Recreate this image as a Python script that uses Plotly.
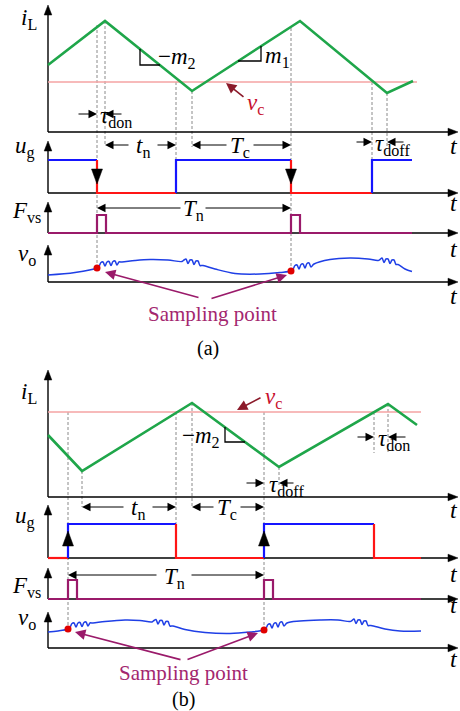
import plotly.graph_objects as go

# ---------------- data (canvas units: x = time to the right, y = level downward) ----------------
# common axis frame
AXIS_X0 = 48
AXIS_X1 = 458
A_AXES = [(5, 132), (141, 193), (202, 233), (245, 282)]      # (arrow tip, time axis) per trace, panel (a)
B_AXES = [(370, 497), (505, 558), (568, 599), (612, 648)]    # panel (b)
A_T_LABEL_Y = [146, 203, 249, 296]
B_T_LABEL_Y = [510, 574, 605, 659]
SIG_MAIN = ["i", "u", "F", "v"]
SIG_SUB = ["L", "g", "vs", "o"]
SIG_RIGHT = [39, 37, 43, 38]
A_SIG_Y = [19, 147, 212, 255]
B_SIG_Y = [393, 517, 587, 619]

# ---- panel (a) ----
A_IL_T = [48, 105, 192, 300, 387, 413]
A_IL_V = [65, 21, 91, 21, 93, 81]
A_VC = 82
A_VC_SPAN = [48, 417]
A_UG_START_HIGH = True
A_UG_EDGE_T = [97, 176, 291, 372]
A_UG_EDGE = ["fall", "rise", "fall", "rise"]
A_UG_END = 412
A_UG_HI, A_UG_LO = 160, 193
A_PULSE_T = [97, 291]
A_PULSE_W = 9
A_PULSE_HI, A_PULSE_LO = 215, 233
A_PULSE_END = 412
A_VO_T = [48, 75, 97,
          99, 101, 103, 105, 107, 109, 111, 113, 115, 117, 119, 122,
          135, 150, 168, 182,
          184, 186, 188, 190, 192, 194, 196, 198, 200, 203,
          215, 235, 260, 280, 291,
          293, 295, 297, 299, 301, 303, 305, 307, 309, 311, 314,
          330, 350, 368, 378,
          380, 382, 384, 386, 388, 390, 392, 394, 396, 398,
          405, 412]
A_VO_V = [275, 272.5, 268,
          266.5, 262.5, 262, 266, 262, 261.5, 265.5, 261.5, 261, 265, 262, 262,
          260.5, 259.5, 260, 261.5,
          260, 259, 263.5, 260, 260, 264.5, 261, 261, 265.5, 265.5,
          269, 273.5, 274, 272.5, 271,
          269.5, 265.5, 265, 269, 264.5, 264, 268, 263.5, 263, 267, 264,
          259.5, 258, 259, 260.5,
          259.5, 258, 262.5, 259, 259, 263.5, 260, 260, 264.5, 264.5,
          269, 271.5]
A_SAMPLE_T = [97, 291]
A_SAMPLE_V = [268, 271]
A_DASH = [(97, 25, 268), (105, 21, 145), (176, 82, 160), (192, 91, 147),
          (291, 28, 271), (372, 82, 160), (387, 93, 147)]

# ---- panel (b) ----
B_IL_T = [48, 82, 192, 279, 388, 417]
B_IL_V = [435, 471, 403, 467, 404, 425]
B_VC = 412
B_VC_SPAN = [48, 421]
B_UG_START_HIGH = False
B_UG_EDGE_T = [68, 176, 264, 374]
B_UG_EDGE = ["rise", "fall", "rise", "fall"]
B_UG_END = 421
B_UG_HI, B_UG_LO = 524, 558
B_PULSE_T = [68, 264]
B_PULSE_W = 9
B_PULSE_HI, B_PULSE_LO = 580, 599
B_PULSE_END = 421
B_VO_T = [48, 58, 68,
          70, 72, 74, 76, 78, 80, 82, 84, 86, 88, 90, 93,
          105, 125, 140, 152,
          154, 156, 158, 160, 162, 164, 166, 168, 170, 173,
          185, 205, 230, 250, 264,
          266, 268, 270, 272, 274, 276, 278, 280, 282, 284, 287,
          300, 320, 338, 350,
          352, 354, 356, 358, 360, 362, 364, 366, 368, 371,
          385, 400, 421]
B_VO_V = [632, 631, 629,
          627.5, 623.5, 623, 627, 623, 622.5, 626.5, 622.5, 622, 626, 623, 623,
          621.5, 620, 620.5, 622,
          620.5, 619.5, 624, 620.5, 620.5, 625, 621.5, 621.5, 626, 626,
          629.5, 632.5, 633.5, 632, 630,
          628.5, 624.5, 624, 628, 623.5, 623, 627, 622.5, 622, 626, 623,
          621, 620, 620, 621.5,
          620.5, 619, 623.5, 620, 620, 624.5, 621, 621, 625.5, 625.5,
          629, 631, 631]
B_SAMPLE_T = [68, 264]
B_SAMPLE_V = [629, 630]
B_DASH = [(68, 412, 629), (82, 471, 507), (176, 412, 524), (192, 403, 507),
          (264, 412, 630), (279, 467, 487), (374, 412, 453), (388, 404, 453)]

# ---------------- styles ----------------
FONT = "Liberation Serif, Times New Roman, serif"
GREEN = "#1fa64a"
BLUE = "#1515ff"
RED = "#ff1515"
PURPLE = "#9a1a6a"
PINK = "#f5a3a3"
VO_BLUE = "#1f3fe6"
DASH_C = "#8a8a8a"
TXT_PURPLE = "#a3276f"
VC_RED = "#c8102e"
VC_ARROW = "#8b1a2a"
LBL = 23

fig = go.Figure()


def line(xs, ys, color, width, dash=None, shape="linear"):
    fig.add_trace(go.Scatter(x=xs, y=ys, mode="lines",
                             line=dict(color=color, width=width, dash=dash, shape=shape),
                             hoverinfo="skip", showlegend=False))


def tri(xs, ys, color="black"):
    fig.add_trace(go.Scatter(x=xs + [xs[0]], y=ys + [ys[0]], mode="lines", fill="toself",
                             fillcolor=color, line=dict(color=color, width=0.5),
                             hoverinfo="skip", showlegend=False))


def text(x, y, s, size=LBL, color="black", xanchor="center", yanchor="middle"):
    fig.add_annotation(x=x, y=y, xref="x", yref="y", text=s, showarrow=False,
                       font=dict(family=FONT, size=size, color=color),
                       xanchor=xanchor, yanchor=yanchor)


def arrow(x0, y0, x1, y1, color="black", width=1, size=1.7):
    fig.add_annotation(x=x1, y=y1, ax=x0, ay=y0, xref="x", yref="y", axref="x", ayref="y",
                       text="", showarrow=True, arrowhead=2, arrowsize=size,
                       arrowwidth=width, arrowcolor=color, standoff=0, startstandoff=0)


def axes(frames, tlabel_y, sig_y):
    for (top, base), ty, sy, m, s, r in zip(frames, tlabel_y, sig_y, SIG_MAIN, SIG_SUB, SIG_RIGHT):
        line([AXIS_X0, AXIS_X0, None, AXIS_X0, AXIS_X1 - 8], [top + 8, base, None, base, base], "black", 1.4)
        tri([AXIS_X0, AXIS_X0 - 3.8, AXIS_X0 + 3.8], [top, top + 10, top + 10])
        tri([AXIS_X1, AXIS_X1 - 10, AXIS_X1 - 10], [base, base - 3.8, base + 3.8])
        text(AXIS_X1 - 4, ty, "<i>t</i>", size=24)
        text(r, sy, "<i>%s</i><sub>%s</sub>" % (m, s), size=LBL, xanchor="right")


def dashed(items):
    xs, ys = [], []
    for x, y0, y1 in items:
        xs += [x, x, None]
        ys += [y0, y1, None]
    line(xs, ys, DASH_C, 1, dash="3px,2px")


def gate(start_high, edge_t, edges, x0, x_end, hi, lo):
    level = hi if start_high else lo
    first = edge_t[0]
    line([x0, first], [level, level], BLUE if level == hi else RED, 2.2)
    for i, (t, e) in enumerate(zip(edge_t, edges)):
        nxt = edge_t[i + 1] if i + 1 < len(edge_t) else x_end
        if e == "rise":
            line([t, t, nxt], [lo, hi, hi], BLUE, 2.2)
        else:
            line([t, t, nxt], [hi, lo, lo], RED, 2.2)


def pulses(pt, w, hi, lo, x0, x_end):
    xs, ys = [x0], [lo]
    for t in pt:
        xs += [t, t, t + w, t + w]
        ys += [lo, hi, hi, lo]
    xs.append(x_end)
    ys.append(lo)
    line(xs, ys, PURPLE, 2.2)


# ---------------- panel (a) ----------------
dashed(A_DASH)
axes(A_AXES, A_T_LABEL_Y, A_SIG_Y)
line(A_VC_SPAN, [A_VC, A_VC], PINK, 1.4)
line(A_IL_T, A_IL_V, GREEN, 2.6)
gate(A_UG_START_HIGH, A_UG_EDGE_T, A_UG_EDGE, AXIS_X0, A_UG_END, A_UG_HI, A_UG_LO)
for t, e in zip(A_UG_EDGE_T, A_UG_EDGE):
    if e == "fall":
        tri([t - 5.5, t + 5.5, t], [169, 169, 184])
pulses(A_PULSE_T, A_PULSE_W, A_PULSE_HI, A_PULSE_LO, AXIS_X0, A_PULSE_END)
line(A_VO_T, A_VO_V, VO_BLUE, 1.5, shape="spline")
fig.add_trace(go.Scatter(x=A_SAMPLE_T, y=A_SAMPLE_V, mode="markers",
                         marker=dict(color="#e00000", size=7), hoverinfo="skip", showlegend=False))

# slope markers
line([140, 140, 160], [49, 65, 65], "black", 1.3)
text(156, 58, "\u2212<i>m</i><sub>2</sub>", xanchor="left")
line([238, 261, 261], [61, 61, 46], "black", 1.3)
text(263, 57, "<i>m</i><sub>1</sub>", xanchor="left")
# v_c
arrow(245, 98, 226, 83, color=VC_ARROW, width=1.6, size=1.3)
text(245, 104, "<i>v</i><sub>c</sub>", color=VC_RED, xanchor="left")
# tau_don
arrow(77, 114, 97, 114)
arrow(123, 114, 105, 114)
text(98, 117, "<i>\u03c4</i><sub>don</sub>", xanchor="left")
# t_n, T_c
arrow(130, 145, 105, 145)
arrow(156, 145, 176, 145)
text(143, 147, "<i>t</i><sub>n</sub>")
arrow(228, 145, 192, 145)
arrow(252, 145, 291, 145)
text(240, 147, "<i>T</i><sub>c</sub>")
# tau_doff
arrow(355, 142, 372, 142)
arrow(405, 142, 387, 142)
text(373, 145, "<i>\u03c4</i><sub>doff</sub>", xanchor="left")
# T_n
arrow(182, 208, 97, 208)
arrow(204, 208, 291, 208)
text(193, 210, "<i>T</i><sub>n</sub>")
# sampling point
arrow(200, 298, 105, 272, color=PURPLE, width=1.6, size=1.3)
arrow(210, 299, 287, 275, color=PURPLE, width=1.6, size=1.3)
text(212, 314, "Sampling point", size=21, color=TXT_PURPLE)
text(208, 348, "(a)", size=20)

# ---------------- panel (b) ----------------
dashed(B_DASH)
axes(B_AXES, B_T_LABEL_Y, B_SIG_Y)
line(B_VC_SPAN, [B_VC, B_VC], PINK, 1.4)
line(B_IL_T, B_IL_V, GREEN, 2.6)
gate(B_UG_START_HIGH, B_UG_EDGE_T, B_UG_EDGE, AXIS_X0, B_UG_END, B_UG_HI, B_UG_LO)
for t, e in zip(B_UG_EDGE_T, B_UG_EDGE):
    if e == "rise":
        tri([t - 5.5, t + 5.5, t], [546, 546, 531])
pulses(B_PULSE_T, B_PULSE_W, B_PULSE_HI, B_PULSE_LO, AXIS_X0, B_PULSE_END)
line(B_VO_T, B_VO_V, VO_BLUE, 1.5, shape="spline")
fig.add_trace(go.Scatter(x=B_SAMPLE_T, y=B_SAMPLE_V, mode="markers",
                         marker=dict(color="#e00000", size=7), hoverinfo="skip", showlegend=False))

line([225, 225, 245], [427, 442, 442], "black", 1.3)
text(222, 437, "\u2212<i>m</i><sub>2</sub>", xanchor="right")
arrow(262, 397, 237, 410, color=VC_ARROW, width=1.6, size=1.3)
text(263, 398, "<i>v</i><sub>c</sub>", color=VC_RED, xanchor="left")
arrow(245, 483, 264, 483)
arrow(295, 483, 279, 483)
text(267, 486, "<i>\u03c4</i><sub>doff</sub>", xanchor="left")
arrow(356, 437, 374, 437)
arrow(407, 437, 388, 437)
text(376, 440, "<i>\u03c4</i><sub>don</sub>", xanchor="left")
arrow(125, 507, 82, 507)
arrow(151, 507, 176, 507)
text(138, 509, "<i>t</i><sub>n</sub>")
arrow(215, 507, 192, 507)
arrow(239, 507, 264, 507)
text(227, 509, "<i>T</i><sub>c</sub>")
arrow(158, 575, 68, 575)
arrow(190, 575, 264, 575)
text(174, 578, "<i>T</i><sub>n</sub>")
arrow(182, 660, 75, 632, color=PURPLE, width=1.6, size=1.3)
arrow(186, 660, 258, 633, color=PURPLE, width=1.6, size=1.3)
text(183, 673, "Sampling point", size=21, color=TXT_PURPLE)
text(183, 699, "(b)", size=20)

fig.update_layout(
    width=460, height=711, margin=dict(l=0, r=0, t=0, b=0),
    paper_bgcolor="white", plot_bgcolor="white",
    xaxis=dict(range=[0, 460], visible=False, fixedrange=True),
    yaxis=dict(range=[711, 0], visible=False, fixedrange=True),
)
fig.write_html("out.html", post_script="document.body.style.margin='0';",
               config={"displayModeBar": False})
